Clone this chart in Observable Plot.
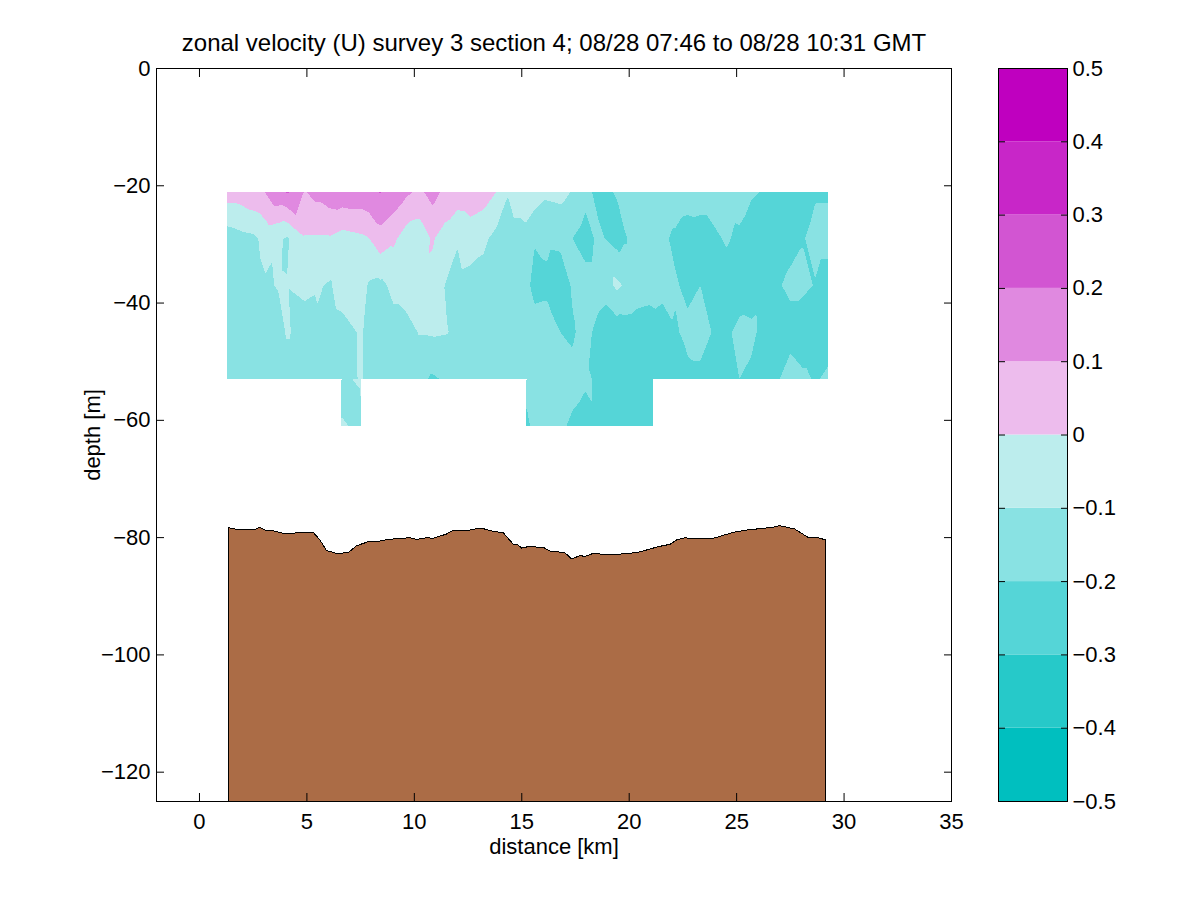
<!DOCTYPE html>
<html>
<head>
<meta charset="utf-8">
<script src="https://cdn.jsdelivr.net/npm/d3@7"></script>
<script src="https://cdn.jsdelivr.net/npm/@observablehq/plot@0.6"></script>
<style>
  html, body { margin: 0; padding: 0; background: #fff; }
  #chart { display: flex; width: 1201px; height: 901px; }
  svg { display: block; }
</style>
</head>
<body>
<div id="chart"></div>
<script>
const titleText = "zonal velocity (U) survey 3 section 4; 08/28 07:46 to 08/28 10:31 GMT";
const xLabel = "distance [km]";
const yLabel = "depth [m]";
const xTicks = [0, 5, 10, 15, 20, 25, 30, 35];
const yTicks = [0, -20, -40, -60, -80, -100, -120];
const barTicks = [-0.5, -0.4, -0.3, -0.2, -0.1, 0, 0.1, 0.2, 0.3, 0.4, 0.5];
const levels = [-0.5, -0.4, -0.3, -0.2, -0.1, 0, 0.1, 0.2, 0.3, 0.4];
const bandColors = ["#00BFBF", "#26C9C9", "#55D5D7", "#89E2E3", "#BCEDED", "#EDBCED", "#E089E0", "#D255D2", "#C826C8", "#BF00BF"];

// distance of each profile column [km]
const dist = [1.30,1.91,2.51,3.07,3.68,4.09,4.89,5.49,6.05,6.65,7.54,7.86,8.42,9.03,9.63,10.24,10.84,11.40,12.01,12.61,13.22,13.82,14.38,14.98,
  15.59,16.19,16.80,17.36,17.96,18.57,19.45,19.78,20.34,20.94,21.54,22.15,22.71,23.31,23.92,24.52,25.13,25.69,26.29,26.90,27.50,28.11,28.66,29.27];

// zonal velocity per depth bin [m/s]
const u21 = [.05,.05,.08,.105,.18,.21,.095,.13,.16,.17,.17,.18,.205,.17,.12,.08,.14,.08,.06,.07,.05,0,-.095,-.06,
  -.04,-.08,-.07,-.105,-.17,-.23,-.19,-.15,-.14,-.13,-.13,-.13,-.14,-.15,-.15,-.16,-.15,-.19,-.205,-.24,-.25,-.25,-.21,-.21];
const u29 = [-.15,-.13,-.12,-.07,-.09,-.11,-.01,-.01,-.01,-.04,-.02,-.005,.06,.02,-.05,-.06,.01,-.04,-.095,-.06,-.08,-.13,-.13,-.13,
  -.195,-.185,-.18,-.2,-.24,-.18,-.24,-.21,-.17,-.15,-.18,-.22,-.26,-.25,-.22,-.19,-.22,-.25,-.26,-.25,-.23,-.205,-.17,-.17];
const u37 = [-.16,-.15,-.14,-.11,-.095,-.097,-.08,-.09,-.11,-.06,-.04,-.11,-.12,-.08,-.06,-.02,-.03,-.1,-.12,-.13,-.14,-.14,-.15,-.16,
  -.22,-.215,-.25,-.19,-.16,-.16,-.08,-.11,-.14,-.15,-.17,-.19,-.22,-.2,-.21,-.24,-.26,-.25,-.23,-.21,-.18,-.18,-.205,-.24];
const u45 = [-.17,-.17,-.16,-.15,-.13,-.09,-.14,-.115,-.14,-.13,-.09,-.13,-.14,-.13,-.13,-.095,-.09,-.095,-.11,-.14,-.15,-.15,-.16,-.17,
  -.17,-.17,-.2,-.21,-.17,-.23,-.26,-.25,-.26,-.27,-.25,-.21,-.18,-.17,-.205,-.22,-.17,-.18,-.23,-.25,-.24,-.27,-.26,-.25];
const u53 = [-.17,-.17,-.17,-.16,-.16,-.16,-.16,-.15,-.14,-.14,-.09,-.13,-.15,-.15,-.16,-.17,-.215,-.19,-.17,-.16,-.16,-.16,-.17,-.17,
  -.17,-.17,-.17,-.18,-.19,-.21,-.23,-.25,-.26,-.26,-.27,-.26,-.22,-.22,-.24,-.22,-.2,-.22,-.23,-.21,-.15,-.18,-.21,-.18];
// deepest bin, only present in two short stretches
const distA = [6.61, 6.95, 7.10, 7.20, 7.54];
const uA53 = [-.14, null, -.10, null, -.09];
const uA61 = [-.09, -.10, null, -.14, -.105];
const u61B = [-.22,-.19,-.18,-.19,-.21,-.23,-.21,-.24,-.26,-.27,-.27,-.27];

// bottom profile
const bottomX = [1.36,1.75,2.61,2.81,3.07,3.38,3.85,4.47,4.62,5.32,5.63,5.94,6.41,6.95,7.34,7.88,8.42,8.81,9.82,10.13,10.59,10.90,11.52,11.83,12.45,12.84,13.23,13.69,14.16,14.63,14.86,15.01,15.32,16.02,16.33,17.03,17.34,17.73,17.96,18.35,19.12,19.98,20.44,21.37,21.92,22.23,22.61,22.93,23.93,24.86,25.48,26.72,27.03,27.73,28.35,28.82,29.13,29.16];
const bottomZ = [-78.39,-78.67,-78.67,-78.33,-78.79,-78.84,-79.30,-79.30,-79.19,-79.19,-80.49,-82.31,-82.77,-82.65,-81.46,-80.78,-80.66,-80.38,-80.10,-80.38,-80.10,-80.21,-79.47,-78.84,-78.90,-78.62,-78.56,-79.02,-79.24,-81.23,-81.35,-81.86,-81.63,-81.74,-82.37,-82.65,-83.73,-83.16,-83.28,-82.77,-83.05,-82.77,-82.60,-81.63,-81.23,-80.49,-80.10,-80.27,-80.21,-79.19,-78.79,-78.33,-78.05,-78.62,-80.04,-80.10,-80.44,-80.44];

const rows = [[-21, u21], [-29, u29], [-37, u37], [-45, u45], [-53, u53]];
const mainPts = rows.flatMap(([z, u]) => u.map((v, i) => ({x: dist[i], z, v})));
const blockA = [
  ...distA.map((x, i) => ({x, z: -53, v: uA53[i]})),
  ...distA.map((x, i) => ({x, z: -61, v: uA61[i]}))
].filter(d => d.v !== null);
const blockB = [
  ...u53.slice(23, 35).map((v, i) => ({x: dist[23 + i], z: -53, v})),
  ...u61B.map((v, i) => ({x: dist[23 + i], z: -61, v}))
];
const bottom = bottomX.map((x, i) => ({x, z: bottomZ[i]}));

const font = "'Liberation Sans', Arial, Helvetica, sans-serif";
const contourOpts = {x: "x", y: "z", fill: "v", thresholds: levels, interpolate: "barycentric", pixelSize: 1, blur: 0, shapeRendering: "crispEdges"};

const main = Plot.plot({
  width: 985, height: 901,
  marginLeft: 156, marginRight: 34, marginTop: 68, marginBottom: 100,
  style: {fontFamily: font, fontSize: "22px", color: "#000", background: "#fff"},
  x: {domain: [-2, 35], label: null},
  y: {domain: [-125, 0], label: null},
  color: {type: "threshold", domain: levels.slice(1), range: bandColors},
  marks: [
    Plot.contour(mainPts, {...contourOpts, x1: 1.30, x2: 29.27, y1: -21, y2: -53}),
    Plot.contour(blockA, {...contourOpts, x1: 6.61, x2: 7.54, y1: -53, y2: -61}),
    Plot.contour(blockB, {...contourOpts, x1: 15.22, x2: 21.12, y1: -53, y2: -61}),
    Plot.areaY(bottom, {x: "x", y1: () => -125, y2: "z", fill: "#AB6C46", stroke: "#000", strokeWidth: 1, shapeRendering: "crispEdges"}),
    Plot.frame({stroke: "#000", strokeWidth: 1}),
    Plot.axisX(xTicks, {anchor: "bottom", tickSize: -8, tickPadding: 20, fontSize: 22, label: xLabel, labelAnchor: "center", labelArrow: false, labelOffset: 52, stroke: "#000"}),
    Plot.axisX(xTicks, {anchor: "top", tickSize: -8, tickFormat: () => "", label: null, stroke: "#000"}),
    Plot.axisY(yTicks, {anchor: "left", tickSize: -8, tickPadding: 14, fontSize: 22, label: yLabel, labelAnchor: "center", labelArrow: false, labelOffset: 72, stroke: "#000"}),
    Plot.axisY(yTicks, {anchor: "right", tickSize: -8, tickFormat: () => "", label: null, stroke: "#000"}),
    Plot.text([titleText], {frameAnchor: "top", dy: -25, fontSize: 24, fill: "#000", lineAnchor: "middle"})
  ]
});

const bands = levels.map((v, i) => ({y1: v, y2: barTicks[i + 1], c: bandColors[i]}));
const bar = Plot.plot({
  width: 216, height: 901,
  marginLeft: 13, marginRight: 134, marginTop: 68, marginBottom: 100,
  style: {fontFamily: font, fontSize: "22px", color: "#000", background: "#fff"},
  x: {domain: [0, 1], axis: null},
  y: {domain: [-0.5, 0.5], label: null},
  marks: [
    Plot.rectY(bands, {x1: () => 0, x2: () => 1, y1: "y1", y2: "y2", fill: d => d.c}),
    Plot.frame({stroke: "#000", strokeWidth: 1}),
    Plot.axisY(barTicks, {anchor: "right", tickSize: -7, tickPadding: 12, fontSize: 22, tickFormat: d3.format(".1~f"), label: null, stroke: "#000"}),
    Plot.axisY(barTicks, {anchor: "left", tickSize: -7, tickFormat: () => "", label: null, stroke: "#000"})
  ]
});

document.getElementById("chart").append(main, bar);
</script>
</body>
</html>
